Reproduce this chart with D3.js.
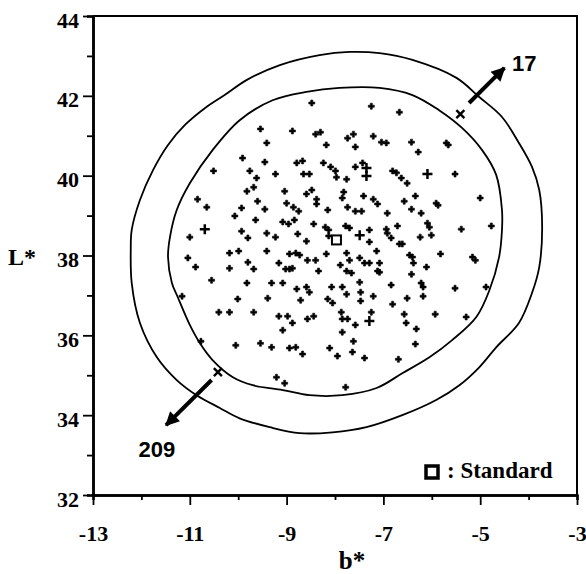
<!DOCTYPE html>
<meta charset="utf-8">
<title>L* vs b*</title>

<style>
body{
	margin: 0;
	background: white;
}
text{
	fill: black;
}
</style>

<body>

<script src="https://cdn.jsdelivr.net/npm/d3@7"></script>

<script>

// tick values
var xMajor = [-13, -11, -9, -7, -5, -3];
var xMinor = [-12, -10, -8, -6, -4];
var yMajor = [32, 34, 36, 38, 40, 42, 44];
var yMinor = [33, 35, 37, 39, 41, 43];

// samples [b*, L*]
var points = [
	[-8.48,41.82],[-7.25,41.74],[-9.54,41.17],[-8.88,41.12],[-8.40,41.04],[-8.30,41.09],[-7.62,41.04],[-7.74,40.94],
	[-7.21,40.99],[-9.41,40.82],[-8.18,40.77],[-7.58,40.72],[-9.91,40.44],[-9.45,40.34],[-8.79,40.32],[-8.67,40.37],
	[-8.24,40.32],[-8.09,40.22],[-7.99,40.12],[-7.58,40.22],[-7.43,40.32],[-10.51,40.12],[-9.76,40.12],[-9.23,40.04],
	[-8.65,40.04],[-8.53,40.04],[-7.97,39.96],[-7.76,39.91],[-9.62,39.94],[-9.68,39.71],[-9.82,39.61],[-9.04,39.61],
	[-8.48,39.64],[-8.59,39.54],[-7.82,39.59],[-7.85,39.44],[-7.41,39.49],[-7.21,39.41],[-10.84,39.41],[-9.60,39.36],
	[-8.38,39.41],[-8.38,39.29],[-10.65,39.21],[-9.93,39.19],[-9.45,39.16],[-9.00,39.31],[-8.86,39.21],[-8.75,39.11],
	[-8.15,39.14],[-7.74,39.21],[-7.58,39.11],[-7.45,39.11],[-7.12,39.29],[-10.07,38.99],[-9.64,38.89],[-9.08,38.84],
	[-8.96,38.79],[-8.84,38.89],[-8.44,38.79],[-8.20,38.71],[-8.13,38.64],[-7.78,38.74],[-7.70,38.69],[-7.29,38.64],
	[-9.93,38.61],[-11.00,38.46],[-9.80,38.44],[-9.41,38.56],[-9.23,38.46],[-8.77,38.54],[-8.59,38.36],[-8.13,38.49],
	[-7.29,38.34],[-10.18,38.06],[-9.99,38.11],[-9.41,38.11],[-8.94,38.04],[-8.81,38.06],[-8.73,38.01],[-8.18,38.04],
	[-7.76,38.06],[-7.14,38.11],[-11.04,37.94],[-10.88,37.71],[-10.18,37.68],[-9.80,37.83],[-9.68,37.66],[-9.16,37.81],
	[-9.02,37.66],[-8.94,37.66],[-8.88,37.68],[-8.57,37.88],[-8.40,37.88],[-8.34,37.61],[-7.89,37.76],[-7.70,37.88],
	[-7.49,37.94],[-7.39,37.81],[-7.29,37.81],[-7.76,37.61],[-7.66,37.56],[-7.12,37.61],[-10.55,37.38],[-9.82,37.31],
	[-9.31,37.31],[-9.08,37.31],[-8.79,37.16],[-8.59,37.21],[-8.53,37.08],[-8.07,37.21],[-7.85,37.21],[-7.49,37.33],
	[-7.76,37.03],[-7.47,37.08],[-7.21,36.98],[-11.16,36.98],[-10.01,36.91],[-9.39,36.93],[-8.71,36.88],[-8.15,36.91],
	[-8.05,36.81],[-7.47,36.86],[-10.40,36.58],[-10.18,36.58],[-9.68,36.58],[-9.16,36.48],[-8.98,36.48],[-8.88,36.31],
	[-8.57,36.41],[-8.44,36.48],[-7.87,36.58],[-7.85,36.41],[-7.74,36.41],[-7.58,36.26],[-7.25,36.58],[-9.08,36.13],
	[-7.85,36.08],[-10.77,35.85],[-7.62,35.85],[-10.05,35.75],[-9.54,35.80],[-9.31,35.70],[-8.94,35.68],[-8.81,35.70],
	[-8.67,35.53],[-8.11,35.68],[-7.95,35.48],[-7.64,35.58],[-7.39,35.43],[-9.21,34.95],[-9.04,34.80],[-7.78,34.70],
	[-6.28,40.59],[-6.81,40.12],[-6.73,40.07],[-6.63,39.94],[-6.51,39.81],[-5.52,40.04],[-6.34,39.49],[-6.57,39.36],
	[-6.42,39.16],[-6.22,39.06],[-5.91,39.31],[-5.87,39.26],[-5.00,39.44],[-6.92,39.06],[-6.09,38.81],[-6.05,38.71],
	[-6.71,38.74],[-6.94,38.66],[-6.92,38.56],[-5.39,38.66],[-4.77,38.74],[-6.84,38.44],[-6.67,38.29],[-6.61,38.29],
	[-6.24,38.46],[-6.01,38.51],[-5.82,38.04],[-6.46,38.01],[-6.40,37.96],[-5.16,37.96],[-5.10,37.88],[-6.38,37.81],
	[-7.08,37.81],[-6.11,37.71],[-7.08,37.58],[-6.42,37.53],[-6.22,37.31],[-6.18,37.21],[-6.84,37.26],[-5.52,37.18],
	[-4.88,37.21],[-6.51,36.93],[-6.18,36.98],[-6.81,36.78],[-6.57,36.53],[-5.93,36.53],[-5.29,36.46],[-6.53,36.31],
	[-6.32,36.16],[-6.34,35.78],[-6.69,35.40],[-6.67,41.59],[-7.04,40.84],[-6.94,40.82],[-6.42,40.84],[-5.70,40.82],
	[-5.66,40.77]
];

// larger "+" samples
var plusPoints = [[-7.35,40.19],[-7.35,39.99],[-6.09,40.04],[-10.69,38.66],[-7.49,38.51],[-7.29,36.36]];

// outliers marked "x"
var crossPoints = [[-5.41,41.54],[-10.42,35.08]];

var standard = [-7.97, 38.39];

// ellipse outlines [b*, L*]
var innerEllipse = [
	[-11.45,37.96],[-11.41,38.46],[-11.27,39.14],[-11.00,39.81],[-10.53,40.64],[-9.97,41.39],[-9.29,41.89],[-8.59,42.10],
	[-7.91,42.20],[-7.08,42.20],[-6.40,42.02],[-5.85,41.64],[-5.37,41.19],[-4.96,40.64],[-4.67,40.02],[-4.55,39.14],
	[-4.55,38.64],[-4.61,37.96],[-4.81,37.13],[-5.08,36.46],[-5.58,35.88],[-6.05,35.45],[-6.61,35.05],[-7.14,34.68],
	[-7.85,34.50],[-8.53,34.50],[-9.08,34.63],[-9.70,34.75],[-10.11,34.95],[-10.53,35.38],[-10.79,35.80],[-11.00,36.26],
	[-11.25,36.96],[-11.37,37.31]
];
var outerEllipse = [
	[-12.22,38.14],[-12.20,38.64],[-12.03,39.39],[-11.76,40.14],[-11.45,40.77],[-11.10,41.27],[-10.69,41.69],[-10.28,42.02],
	[-9.82,42.40],[-9.14,42.77],[-8.32,43.02],[-7.70,43.10],[-7.08,43.07],[-6.40,42.90],[-5.49,42.45],[-5.02,41.97],
	[-4.55,41.47],[-4.20,40.82],[-3.93,40.22],[-3.78,39.64],[-3.72,38.71],[-3.78,37.71],[-3.93,37.06],[-4.20,36.31],
	[-4.67,35.70],[-5.02,35.20],[-5.43,34.75],[-5.91,34.38],[-6.61,34.00],[-7.35,33.70],[-8.05,33.57],[-8.73,33.55],
	[-9.35,33.70],[-9.97,33.92],[-10.38,34.18],[-10.86,34.50],[-11.27,34.88],[-11.68,35.45],[-12.03,36.31],[-12.20,37.31]
];

// arrows: [label, tail, tip, label anchor]
var arrows = [
	{label: '17', tail: [-5.23,41.82], tip: [-4.50,42.70], text: [-4.09,42.62]},
	{label: '209', tail: [-10.55,34.88], tip: [-11.49,33.75], text: [-11.68,32.95]}
];


var width = 586;
var height = 574;
var margin = {top: 16, right: 9, bottom: 79, left: 93};

var serif = '"Liberation Serif", "Times New Roman", serif';
var sans = '"Liberation Sans", Arial, sans-serif';

var x = d3.scaleLinear()
	.domain([-13, -3])
	.range([margin.left, width - margin.right]);

var y = d3.scaleLinear()
	.domain([32, 44])
	.range([height - margin.bottom, margin.top]);

var svg = d3.select('body')
	.append('svg')
	.attr('width', width)
	.attr('height', height);

// frame (top and right)
svg.append('path')
	.attr('d', 'M' + x(-13) + ',' + y(44) + 'H' + x(-3) + 'V' + y(32))
	.attr('fill', 'none')
	.attr('stroke', 'black')
	.attr('stroke-width', 2);

// x axis
var gx = svg.append('g')
	.attr('transform', 'translate(0,' + y(32) + ')');

gx.append('g')
	.call(d3.axisBottom(x).tickValues(xMinor).tickSize(5).tickFormat(''));

gx.append('g')
	.call(d3.axisBottom(x).tickValues(xMajor).tickSize(10).tickSizeOuter(0).tickPadding(20)
		.tickFormat(function(d){ return d; }));

// y axis
var gy = svg.append('g')
	.attr('transform', 'translate(' + x(-13) + ',0)');

gy.append('g')
	.call(d3.axisLeft(y).tickValues(yMinor).tickSize(6).tickFormat(''));

gy.append('g')
	.call(d3.axisLeft(y).tickValues(yMajor).tickSize(10).tickSizeOuter(0).tickPadding(4));

svg.selectAll('.domain')
	.attr('stroke-width', 2.5);
svg.selectAll('.tick line')
	.attr('stroke-width', 1.8);
svg.selectAll('.tick text')
	.attr('font-family', serif)
	.attr('font-weight', 'bold')
	.attr('font-size', 22);
gy.selectAll('.tick text')
	.attr('dy', '0.5em');

// axis titles
svg.append('text')
	.attr('x', 352)
	.attr('y', 569)
	.attr('text-anchor', 'middle')
	.attr('font-family', serif)
	.attr('font-weight', 'bold')
	.attr('font-size', 25)
	.text('b*');

svg.append('text')
	.attr('x', 22)
	.attr('y', 265)
	.attr('text-anchor', 'middle')
	.attr('font-family', serif)
	.attr('font-weight', 'bold')
	.attr('font-size', 24)
	.text('L*');

// ellipses
var outline = d3.line()
	.x(function(d){ return x(d[0]); })
	.y(function(d){ return y(d[1]); })
	.curve(d3.curveCatmullRomClosed);

svg.selectAll('.ellipse')
	.data([innerEllipse, outerEllipse])
	.enter()
	.append('path')
	.attr('class', 'ellipse')
	.attr('d', outline)
	.attr('fill', 'none')
	.attr('stroke', 'black')
	.attr('stroke-width', 1.8);

// samples
svg.append('g')
	.selectAll('path')
	.data(points)
	.enter()
	.append('path')
	.attr('transform', function(d){ return 'translate(' + x(d[0]) + ',' + y(d[1]) + ')'; })
	.attr('d', d3.symbol().type(d3.symbolCross).size(20))
	.attr('fill', 'black')
	.attr('stroke', 'black')
	.attr('stroke-width', 0.6);

svg.append('g')
	.selectAll('path')
	.data(plusPoints)
	.enter()
	.append('path')
	.attr('d', function(d){
		var px = x(d[0]), py = y(d[1]);
		return 'M' + (px - 5) + ',' + py + 'H' + (px + 5) + 'M' + px + ',' + (py - 5) + 'V' + (py + 5);
	})
	.attr('stroke', 'black')
	.attr('stroke-width', 2.5);

svg.append('g')
	.selectAll('path')
	.data(crossPoints)
	.enter()
	.append('path')
	.attr('d', function(d){
		var px = x(d[0]), py = y(d[1]);
		return 'M' + (px - 4) + ',' + (py - 4) + 'L' + (px + 4) + ',' + (py + 4) +
			'M' + (px - 4) + ',' + (py + 4) + 'L' + (px + 4) + ',' + (py - 4);
	})
	.attr('stroke', 'black')
	.attr('stroke-width', 2.4);

// standard
svg.append('rect')
	.attr('x', x(standard[0]) - 4.5)
	.attr('y', y(standard[1]) - 4.5)
	.attr('width', 9)
	.attr('height', 9)
	.attr('fill', 'white')
	.attr('stroke', 'black')
	.attr('stroke-width', 2);

// arrows
svg.append('defs')
	.append('marker')
	.attr('id', 'head')
	.attr('viewBox', '0 0 10 10')
	.attr('refX', 9)
	.attr('refY', 5)
	.attr('markerUnits', 'userSpaceOnUse')
	.attr('markerWidth', 17)
	.attr('markerHeight', 14)
	.attr('orient', 'auto')
	.append('path')
	.attr('d', 'M0,0L10,5L0,10z')
	.attr('fill', 'black');

var ga = svg.selectAll('.arrow')
	.data(arrows)
	.enter()
	.append('g')
	.attr('class', 'arrow');

ga.append('line')
	.attr('x1', function(d){ return x(d.tail[0]); })
	.attr('y1', function(d){ return y(d.tail[1]); })
	.attr('x2', function(d){ return x(d.tip[0]); })
	.attr('y2', function(d){ return y(d.tip[1]); })
	.attr('stroke', 'black')
	.attr('stroke-width', 4)
	.attr('marker-end', 'url(#head)');

ga.append('text')
	.attr('x', function(d){ return x(d.text[0]); })
	.attr('y', function(d){ return y(d.text[1]); })
	.attr('text-anchor', 'middle')
	.attr('font-family', sans)
	.attr('font-weight', 'bold')
	.attr('font-size', 22)
	.text(function(d){ return d.label; });

// legend
svg.append('rect')
	.attr('x', 426)
	.attr('y', 466)
	.attr('width', 12)
	.attr('height', 12)
	.attr('fill', 'white')
	.attr('stroke', 'black')
	.attr('stroke-width', 3.5);

svg.append('text')
	.attr('x', 447)
	.attr('y', 478)
	.attr('font-family', serif)
	.attr('font-weight', 'bold')
	.attr('font-size', 23)
	.text(': Standard');

</script>
</body>
